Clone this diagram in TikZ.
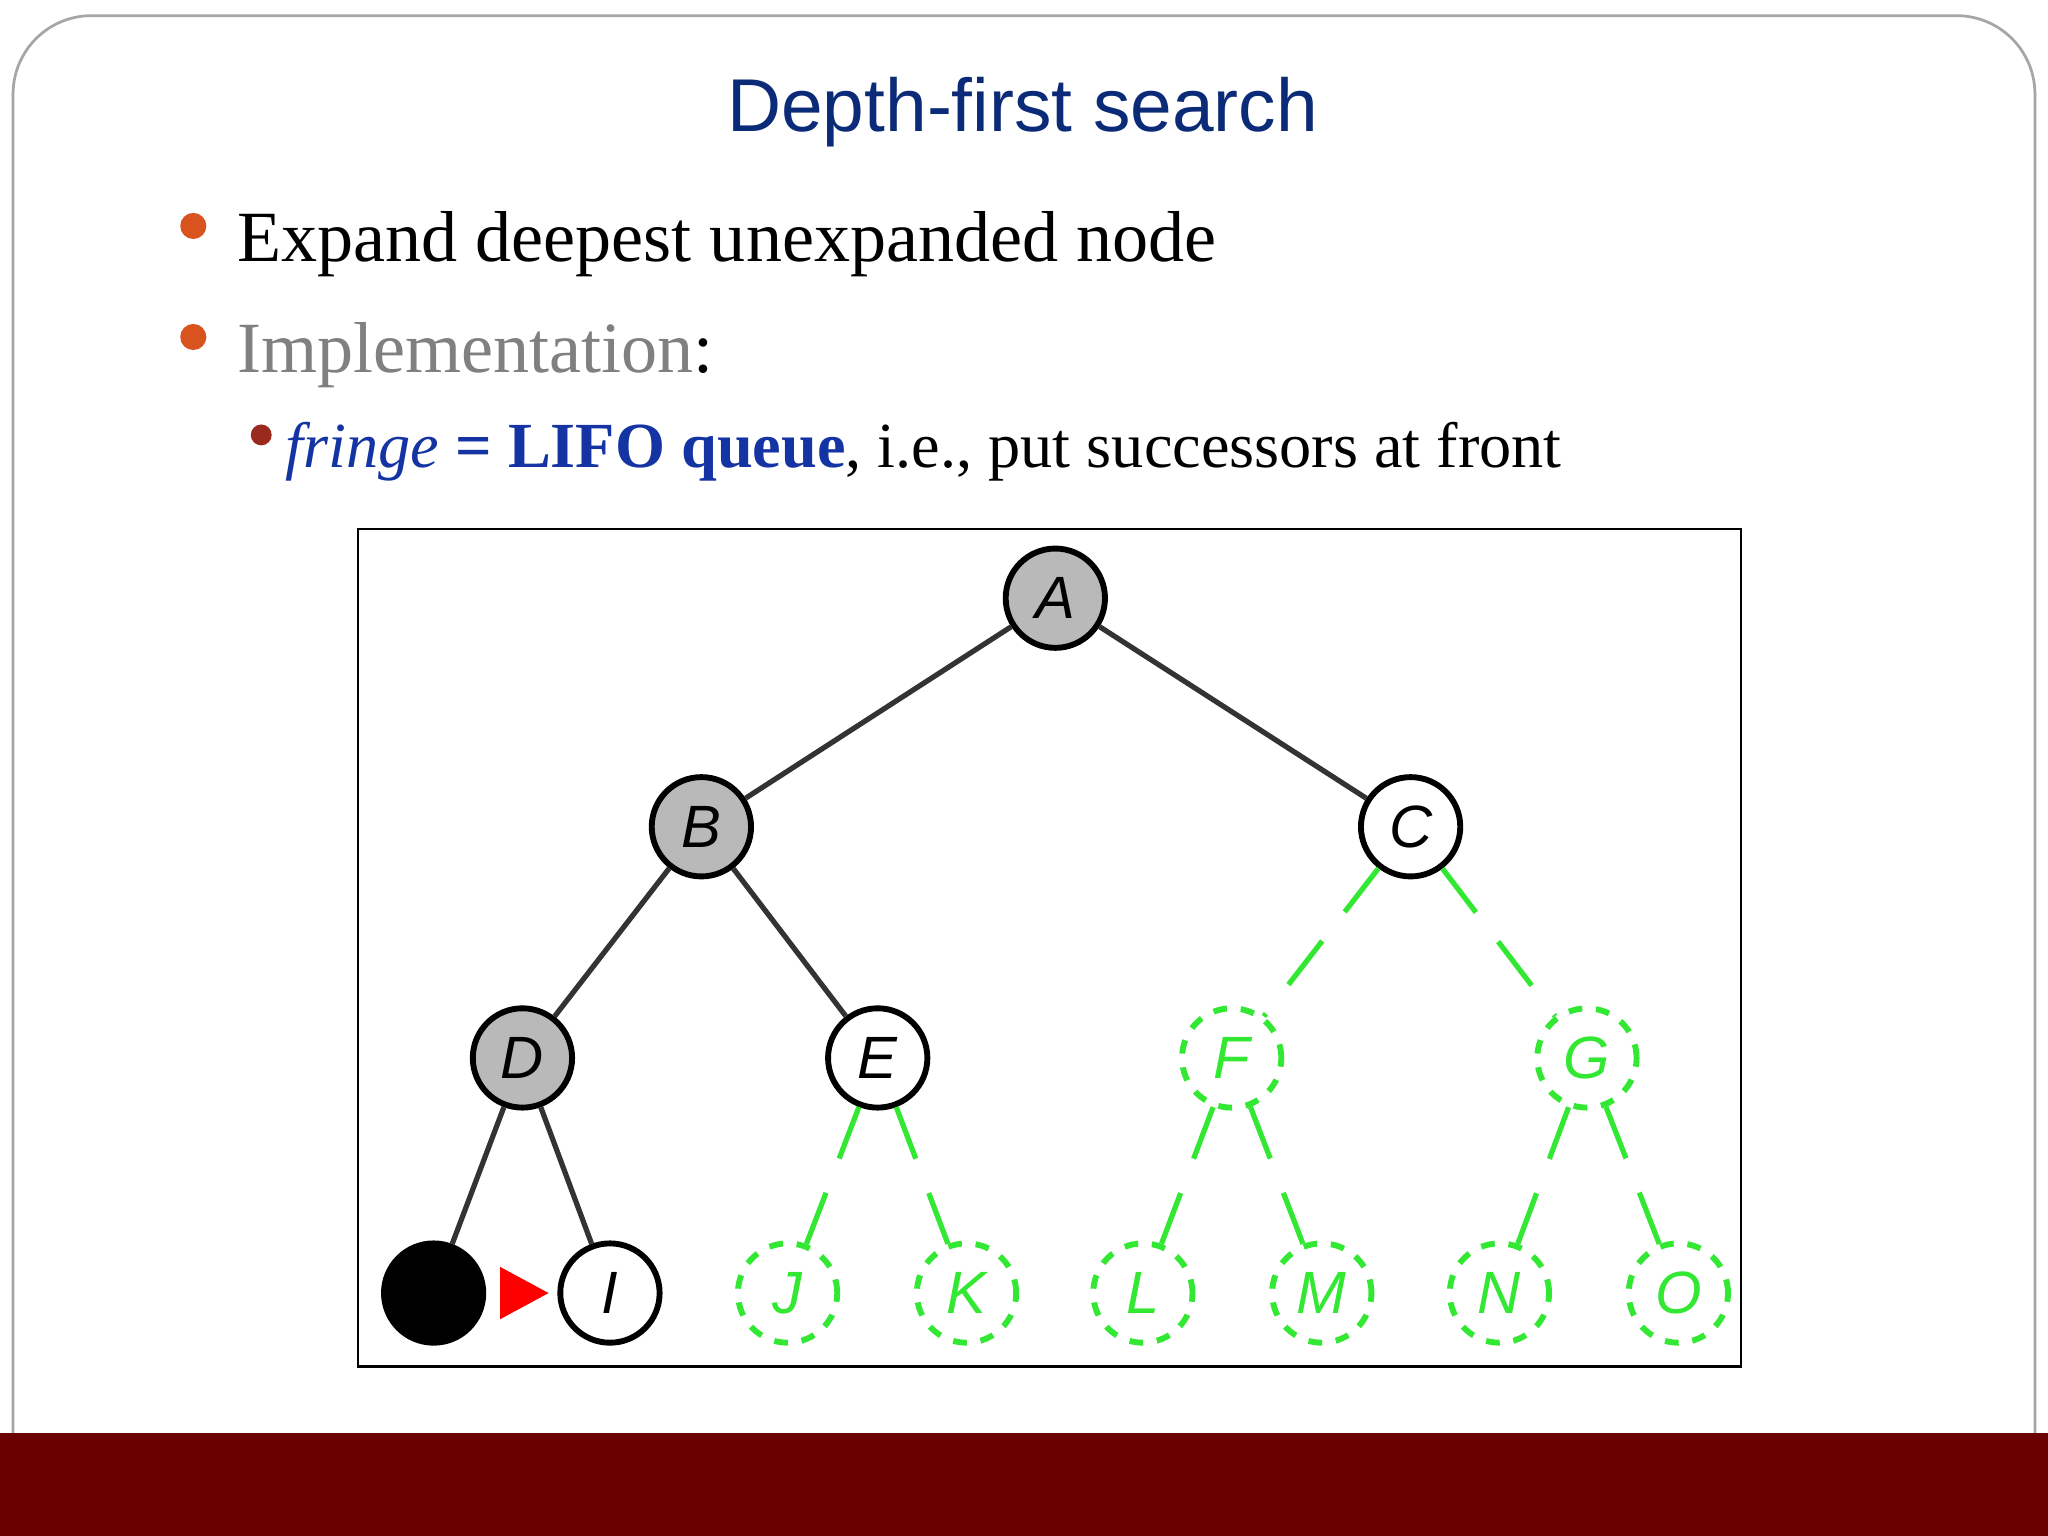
\documentclass[tikz,border=0pt]{standalone}
\usepackage{fontspec}
\setmainfont{Liberation Serif}
\setsansfont{Liberation Sans}
\definecolor{navy}{HTML}{0B2A78}
\definecolor{barred}{HTML}{6B0000}
\definecolor{bulor}{HTML}{D9531E}
\definecolor{bulred}{HTML}{9B2A1E}
\definecolor{lblue}{HTML}{1434A4}
\definecolor{grn}{HTML}{33E833}
\tikzset{
 tn/.style={circle,draw=black,line width=4.5*0.2845pt,minimum size=76*0.2845pt,inner sep=0pt,font=\sffamily\itshape\fontsize{13}{13}\selectfont},
 gn/.style={tn,fill=gray!55},
 fn/.style={tn,draw=grn,text=grn,dashed},
 ed/.style={line width=4*0.2845pt,black!80},
 ged/.style={line width=4*0.2845pt,grn,dashed,dash pattern=on 12pt off 8pt},
}
\begin{document}
\begin{tikzpicture}[x=0.01cm,y=-0.01cm]
\useasboundingbox (0,0) rectangle (1568,1176);
\fill[white] (0,0) rectangle (1568,1176);
\draw[gray!70,line width=0.6pt,rounded corners=60*0.2845pt] (10,1176) -- (10,12) -- (1558,12) -- (1558,1176);
\fill[barred] (0,1097) rectangle (1568,1176);
\node[font=\sffamily\fontsize{16.3}{18}\selectfont,text=navy] (title) at (783,86) {Depth-first search};
\fill[bulor] (148,173) circle (10);
\fill[bulor] (148,258) circle (10);
\fill[bulred] (200,333) circle (8);
\node[anchor=base west,font=\fontsize{15.7}{18}\selectfont,inner sep=0pt] (b1) at (181,200) {Expand deepest unexpanded node};
\node[anchor=base west,font=\fontsize{15.7}{18}\selectfont,inner sep=0pt] (b2) at (181,285) {\textcolor{gray}{Implementation}:};
\node[anchor=base west,font=\fontsize{14}{16}\selectfont,inner sep=0pt] (b3) at (218,358) {\textcolor{lblue}{\textit{fringe} \textbf{= LIFO queue}}, i.e., put successors at front};
\draw[line width=0.6pt] (274,405) rectangle (1333,1046);
\node[gn] (A) at (808,458) {A};
\node[gn] (B) at (537,633) {B};
\node[tn] (C) at (1080,633) {C};
\node[gn] (D) at (400,810) {D};
\node[tn] (E) at (672,810) {E};
\node[fn] (F) at (943,810) {F};
\node[fn] (G) at (1215,810) {G};
\node[tn,fill=black] (H) at (332,990) {};
\node[tn] (I) at (467,990) {I};
\node[fn] (J) at (603,990) {J};
\node[fn] (K) at (740,990) {K};
\node[fn] (L) at (875,990) {L};
\node[fn] (M) at (1012,990) {M};
\node[fn] (N) at (1148,990) {N};
\node[fn] (O) at (1285,990) {O};
\draw[ed] (A) -- (B); \draw[ed] (A) -- (C);
\draw[ed] (B) -- (D); \draw[ed] (B) -- (E);
\draw[ed] (D) -- (H); \draw[ed] (D) -- (I);
\draw[ged] (C) -- (F); \draw[ged] (C) -- (G);
\draw[ged] (E) -- (J); \draw[ged] (E) -- (K);
\draw[ged] (F) -- (L); \draw[ged] (F) -- (M);
\draw[ged] (G) -- (N); \draw[ged] (G) -- (O);
\fill[red] (383,970) -- (420,990) -- (383,1010) -- cycle;
\end{tikzpicture}
\end{document}
